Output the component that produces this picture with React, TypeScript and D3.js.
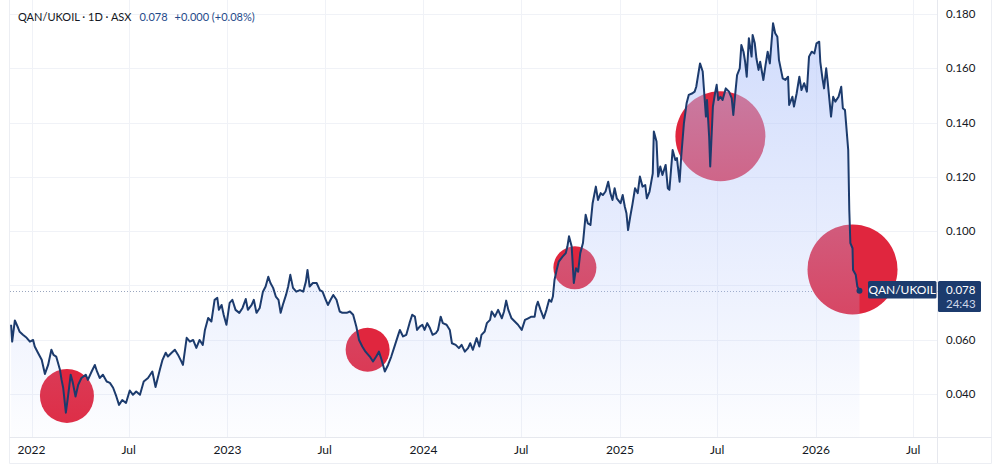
import React from "react";
import * as d3 from "d3";

const dates = [
"2021-11-24","2021-11-26","2021-12-01","2021-12-07","2021-12-10","2021-12-16","2021-12-23","2021-12-29",
"2022-01-04","2022-01-07","2022-01-13","2022-01-20","2022-01-26","2022-02-01","2022-02-07","2022-02-11","2022-02-16","2022-02-23","2022-02-26",
"2022-03-01","2022-03-06","2022-03-10","2022-03-15","2022-03-19","2022-03-24","2022-03-29","2022-04-04","2022-04-12","2022-04-16","2022-04-23","2022-04-29",
"2022-05-03","2022-05-08","2022-05-14","2022-05-21","2022-05-27","2022-06-02","2022-06-08","2022-06-13","2022-06-19","2022-06-26",
"2022-07-03","2022-07-09","2022-07-15","2022-07-22","2022-07-29","2022-08-06","2022-08-14","2022-08-20","2022-08-28",
"2022-09-02","2022-09-08","2022-09-12","2022-09-19","2022-09-25","2022-10-01","2022-10-07","2022-10-10","2022-10-17","2022-10-23","2022-10-29",
"2022-11-04","2022-11-10","2022-11-16","2022-11-20","2022-11-26","2022-12-02","2022-12-08","2022-12-13","2022-12-16","2022-12-21","2022-12-25","2022-12-30",
"2023-01-05","2023-01-10","2023-01-16","2023-01-23","2023-01-29","2023-02-04","2023-02-08","2023-02-15","2023-02-19","2023-02-24",
"2023-03-02","2023-03-08","2023-03-13","2023-03-18","2023-03-22","2023-03-27","2023-04-01","2023-04-06","2023-04-10","2023-04-14","2023-04-20","2023-04-24","2023-04-28",
"2023-05-03","2023-05-09","2023-05-16","2023-05-22","2023-05-27","2023-05-30","2023-06-03","2023-06-09","2023-06-16","2023-06-22","2023-06-27",
"2023-07-03","2023-07-07","2023-07-12","2023-07-17","2023-07-23","2023-07-29","2023-08-03","2023-08-11","2023-08-17","2023-08-23","2023-08-29",
"2023-09-03","2023-09-09","2023-09-15","2023-09-23","2023-09-29","2023-10-05","2023-10-10","2023-10-15","2023-10-21","2023-10-27",
"2023-11-02","2023-11-09","2023-11-15","2023-11-18","2023-11-24","2023-11-30","2023-12-06","2023-12-11","2023-12-16","2023-12-20","2023-12-25","2023-12-30",
"2024-01-03","2024-01-08","2024-01-13","2024-01-18","2024-01-24","2024-01-28","2024-02-02","2024-02-06","2024-02-13","2024-02-19","2024-02-23",
"2024-03-01","2024-03-07","2024-03-12","2024-03-18","2024-03-24","2024-03-28","2024-04-02","2024-04-09","2024-04-14","2024-04-18","2024-04-24","2024-04-28",
"2024-05-04","2024-05-07","2024-05-13","2024-05-19","2024-05-26","2024-05-30","2024-06-03","2024-06-07","2024-06-13","2024-06-19","2024-06-25",
"2024-07-02","2024-07-08","2024-07-14","2024-07-20","2024-07-26","2024-07-29","2024-08-01","2024-08-06","2024-08-12","2024-08-17","2024-08-22","2024-08-26","2024-08-29",
"2024-09-01","2024-09-05","2024-09-09","2024-09-16","2024-09-22","2024-09-25","2024-09-28","2024-10-03","2024-10-07","2024-10-11","2024-10-15","2024-10-19","2024-10-24","2024-10-29",
"2024-11-02","2024-11-07","2024-11-11","2024-11-17","2024-11-21","2024-11-26","2024-11-30","2024-12-05","2024-12-10","2024-12-14","2024-12-18","2024-12-22","2024-12-26",
"2025-01-02","2025-01-06","2025-01-10","2025-01-13","2025-01-16","2025-01-20","2025-01-24","2025-01-29","2025-02-03","2025-02-07","2025-02-12","2025-02-17","2025-02-20","2025-02-25",
"2025-03-03","2025-03-05","2025-03-10","2025-03-13","2025-03-17","2025-03-21","2025-03-27","2025-03-31","2025-04-03","2025-04-09","2025-04-14","2025-04-17","2025-04-22","2025-04-25","2025-04-30",
"2025-05-05","2025-05-09","2025-05-16","2025-05-20","2025-05-23","2025-05-30","2025-06-04","2025-06-06","2025-06-10","2025-06-12","2025-06-16","2025-06-18","2025-06-23","2025-06-27","2025-06-30",
"2025-07-03","2025-07-07","2025-07-11","2025-07-17","2025-07-23","2025-07-28","2025-07-31","2025-08-04","2025-08-07","2025-08-12","2025-08-15","2025-08-19","2025-08-22","2025-08-25","2025-08-29",
"2025-09-03","2025-09-05","2025-09-09","2025-09-12","2025-09-16","2025-09-19","2025-09-25","2025-09-29","2025-10-03","2025-10-07","2025-10-10","2025-10-13","2025-10-17","2025-10-21","2025-10-24","2025-10-31",
"2025-11-05","2025-11-10","2025-11-12","2025-11-18","2025-11-21","2025-11-26","2025-12-01","2025-12-05","2025-12-10","2025-12-15","2025-12-19","2025-12-24","2025-12-29",
"2026-01-02","2026-01-07","2026-01-09","2026-01-13","2026-01-16","2026-01-20","2026-01-23","2026-01-29","2026-02-02","2026-02-06","2026-02-12","2026-02-17","2026-02-20","2026-02-24","2026-02-26",
"2026-03-02","2026-03-04","2026-03-06","2026-03-10","2026-03-11","2026-03-16","2026-03-19","2026-03-23"
];

const values = [
0.0655,0.0593,0.0671,0.0644,0.0629,0.0618,0.0607,0.0593,
0.0599,0.0575,0.0552,0.0526,0.0474,0.0507,0.0563,0.0544,0.0538,0.0489,0.0452,
0.0423,0.0331,0.0391,0.0471,0.0441,0.0391,0.0434,0.0459,0.0471,0.0452,0.0483,0.0507,
0.0483,0.0459,0.0471,0.0446,0.0441,0.0423,0.0391,0.0360,0.0378,0.0367,
0.0413,0.0397,0.0409,0.0397,0.0446,0.0459,0.0483,0.0426,0.0489,
0.0526,0.0552,0.0538,0.0552,0.0563,0.0544,0.0520,0.0507,0.0607,0.0593,0.0599,
0.0570,0.0599,0.0581,0.0636,0.0680,0.0667,0.0747,0.0754,0.0710,0.0728,0.0691,0.0655,
0.0736,0.0747,0.0710,0.0699,0.0717,0.0750,0.0710,0.0728,0.0747,0.0699,
0.0717,0.0777,0.0796,0.0832,0.0809,0.0791,0.0759,0.0747,0.0699,0.0728,0.0765,0.0796,0.0839,
0.0791,0.0777,0.0783,0.0777,0.0814,0.0857,0.0796,0.0809,0.0809,0.0783,0.0777,
0.0747,0.0728,0.0747,0.0765,0.0747,0.0704,0.0699,0.0699,0.0704,0.0692,0.0648,
0.0599,0.0575,0.0556,0.0538,0.0520,0.0538,0.0556,0.0526,0.0483,0.0507,
0.0538,0.0581,0.0618,0.0636,0.0612,0.0618,0.0661,0.0692,0.0685,0.0636,0.0648,0.0655,
0.0636,0.0661,0.0643,0.0618,0.0624,0.0636,0.0685,0.0661,0.0655,0.0636,0.0587,
0.0581,0.0569,0.0581,0.0556,0.0569,0.0587,0.0563,0.0606,0.0575,0.0618,0.0630,0.0661,
0.0673,0.0704,0.0685,0.0710,0.0679,0.0704,0.0744,0.0710,0.0679,0.0667,0.0655,
0.0636,0.0673,0.0679,0.0685,0.0685,0.0722,0.0740,0.0710,0.0679,0.0710,0.0747,0.0740,0.0759,
0.0820,0.0857,0.0888,0.0906,0.0919,0.0943,0.0981,0.0943,0.0809,0.0863,0.0851,0.0919,0.0956,0.1060,
0.1029,0.1023,0.1103,0.1164,0.1115,0.1140,0.1133,0.1146,0.1182,0.1140,0.1115,0.1158,0.1121,
0.1103,0.1133,0.1090,0.1066,0.1004,0.1053,0.1097,0.1158,0.1140,0.1201,0.1164,0.1170,0.1121,0.1146,
0.1213,0.1367,0.1330,0.1201,0.1238,0.1207,0.1244,0.1158,0.1152,0.1299,0.1262,0.1269,0.1182,0.1275,0.1397,
0.1471,0.1502,0.1508,0.1514,0.1532,0.1618,0.1588,0.1532,0.1422,0.1483,0.1348,0.1238,0.1459,0.1508,0.1539,
0.1483,0.1495,0.1483,0.1526,0.1514,0.1490,0.1428,0.1514,0.1575,0.1600,0.1686,0.1661,0.1624,0.1569,0.1711,
0.1643,0.1723,0.1692,0.1637,0.1594,0.1624,0.1557,0.1612,0.1661,0.1618,0.1692,0.1766,0.1729,0.1716,0.1631,0.1563,
0.1557,0.1569,0.1465,0.1495,0.1459,0.1508,0.1569,0.1520,0.1545,0.1514,0.1643,0.1661,0.1655,
0.1692,0.1698,0.1624,0.1563,0.1526,0.1600,0.1545,0.1422,0.1495,0.1477,0.1495,0.1532,0.1453,0.1446,0.1397,
0.1299,0.1078,0.0956,0.0937,0.0857,0.0839,0.0796,0.0780
];

const xTickDates = ["2022-01-01","2022-07-01","2023-01-01","2023-07-01","2024-01-01","2024-07-01","2025-01-01","2025-07-01","2026-01-01","2026-07-01"];
const xTickLabels = ["2022","Jul","2023","Jul","2024","Jul","2025","Jul","2026","Jul"];
const yTicks = [0.04, 0.06, 0.08, 0.1, 0.12, 0.14, 0.16, 0.18];
const yTicksHidden = [0.08];

const highlightDates = ["2022-03-08","2023-09-19","2024-10-09","2025-07-07","2026-03-10"];
const highlightValues = [0.0393, 0.0563, 0.0865, 0.1350, 0.0859];
const highlightRadii = [27, 22, 21.5, 45, 45];

const symbol = "QAN/UKOIL";
const headerMeta = "QAN/UKOIL · 1D · ASX";
const lastValue = 0.078;
const changeText = "+0.000 (+0.08%)";
const countdown = "24:43";

const W = 1000, H = 471;
const PLOT_L = 10, PLOT_R = 937.5, PLOT_B = 437.5;
const NAVY = "#1c3b6d";
const FONT = "Lato, 'Open Sans', sans-serif";

export default function App() {
  const parse = d3.timeParse("%Y-%m-%d");
  const data = dates.map((d, i) => ({ date: parse(d) as Date, value: values[i] }));
  const x = d3.scaleTime()
    .domain([parse("2022-01-01") as Date, parse("2026-01-01") as Date])
    .range([31.5, 816]);
  const y = d3.scaleLinear().domain([0.04, 0.18]).range([394, 14]);

  const line = d3.line<{ date: Date; value: number }>()
    .x(d => x(d.date)).y(d => y(d.value)).curve(d3.curveLinear);
  const area = d3.area<{ date: Date; value: number }>()
    .x(d => x(d.date)).y0(PLOT_B).y1(d => y(d.value));

  const maxV = d3.max(values) as number;
  const last = data[data.length - 1];
  const lx = x(last.date), ly = y(lastValue);
  const fmt = d3.format(".3f");

  return (
    <svg width={W} height={H} style={{ position: "absolute", left: 0, top: 0, background: "#fff" }}
      fontFamily={FONT}>
      <defs>
        <linearGradient id="areaGrad" gradientUnits="userSpaceOnUse" x1="0" x2="0" y1={y(maxV)} y2={PLOT_B}>
          <stop offset="0%" stopColor="rgb(180,198,250)" stopOpacity={0.62} />
          <stop offset="100%" stopColor="rgb(180,198,250)" stopOpacity={0.03} />
        </linearGradient>
        <clipPath id="plotClip">
          <rect x={PLOT_L} y={0} width={PLOT_R - PLOT_L} height={PLOT_B} />
        </clipPath>
      </defs>
      <rect x={0} y={0} width={W} height={H} fill="#fff" />
      {yTicks.map(t => (
        <line key={"gy" + t} x1={PLOT_L} x2={PLOT_R} y1={Math.round(y(t)) + 0.5} y2={Math.round(y(t)) + 0.5} stroke="#f0f2f7" />
      ))}
      {xTickDates.map(t => {
        const xx = Math.round(x(parse(t) as Date)) + 0.5;
        return <line key={"gx" + t} x1={xx} x2={xx} y1={0} y2={PLOT_B} stroke="#f0f2f7" />;
      })}
      <line x1={PLOT_L - 0.5} x2={PLOT_L - 0.5} y1={0} y2={463.5} stroke="#eceef3" />
      <line x1={PLOT_R} x2={PLOT_R} y1={0} y2={463.5} stroke="#e6e8ee" />
      <line x1={991.5} x2={991.5} y1={0} y2={463.5} stroke="#eceef3" />
      <line x1={PLOT_L - 0.5} x2={991.5} y1={PLOT_B} y2={PLOT_B} stroke="#e6e8ee" />
      <line x1={PLOT_L - 0.5} x2={991.5} y1={463.5} y2={463.5} stroke="#eceef3" />

      <line x1={PLOT_L} x2={PLOT_R} y1={Math.round(ly) + 0.5} y2={Math.round(ly) + 0.5}
        stroke="#9aa6bf" strokeWidth={1} strokeDasharray="1 2" />

      <g clipPath="url(#plotClip)">
        {highlightDates.map((d, i) => (
          <circle key={"c" + d} cx={x(parse(d) as Date)} cy={y(highlightValues[i])} r={highlightRadii[i]} fill="#e0263e" />
        ))}
        <path d={area(data) || ""} fill="url(#areaGrad)" />
        <path d={line(data) || ""} fill="none" stroke={NAVY} strokeWidth={2} strokeLinejoin="round" />
        <circle cx={lx} cy={ly} r={3} fill={NAVY} />
      </g>

      <text x={18} y={21} fontSize={11} fill="#131722">
        {headerMeta}
        <tspan dx={8} fill="#1f4a8a">{fmt(lastValue)}</tspan>
        <tspan dx={7} fill="#1f4a8a">{changeText}</tspan>
      </text>

      {yTicks.filter(t => !yTicksHidden.includes(t)).map(t => (
        <text key={"yl" + t} x={946} y={y(t)} dy="0.35em" fontSize={11.5} fill="#131722">{fmt(t)}</text>
      ))}
      {xTickDates.map((t, i) => (
        <text key={"xl" + t} x={x(parse(t) as Date)} y={450} dy="0.35em" fontSize={12} textAnchor="middle" fill="#131722">{xTickLabels[i]}</text>
      ))}

      <rect x={868} y={281} width={68.5} height={17.5} rx={1.5} fill={NAVY} />
      <text x={902.25} y={289.75} dy="0.35em" fontSize={12} textAnchor="middle" fill="#fff">{symbol}</text>
      <rect x={938} y={281} width={43} height={31} rx={1.5} fill={NAVY} />
      <text x={946} y={290} dy="0.35em" fontSize={11.5} fill="#fff">{fmt(lastValue)}</text>
      <text x={946} y={304} dy="0.35em" fontSize={11.5} fill="#cfd8ea">{countdown}</text>
    </svg>
  );
}
